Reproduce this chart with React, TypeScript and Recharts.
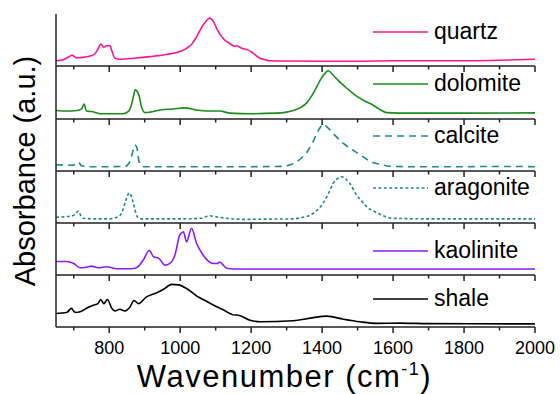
import { LineChart, Line, XAxis, YAxis, Legend } from 'recharts'

// FTIR absorbance (a.u., normalised per panel): [wavenumber, absorbance]
const quartz = [
  [650, 0.1], [670, 0.12], [690, 0.19], [696, 0.21], [706, 0.16], [730, 0.17], [746, 0.19],
  [760, 0.24], [768, 0.32], [776, 0.42], [785, 0.36], [792, 0.39], [802, 0.39], [807, 0.3],
  [816, 0.15], [830, 0.13], [870, 0.15], [915, 0.18], [960, 0.22], [990, 0.26], [1018, 0.34],
  [1035, 0.44], [1046, 0.56], [1062, 0.76], [1075, 0.88], [1083, 0.92], [1095, 0.84],
  [1103, 0.72], [1121, 0.53], [1140, 0.43], [1154, 0.38], [1160, 0.39], [1168, 0.36],
  [1178, 0.33], [1190, 0.31], [1201, 0.27], [1212, 0.21], [1225, 0.15], [1240, 0.12],
  [1253, 0.1], [1300, 0.095], [1400, 0.09], [1500, 0.09], [1600, 0.1], [1700, 0.1],
  [1800, 0.1], [1900, 0.11], [2000, 0.13],
]

const dolomite = [
  [650, 0.16], [680, 0.15], [710, 0.16], [722, 0.19], [729, 0.28], [736, 0.15], [750, 0.14],
  [774, 0.1], [800, 0.1], [839, 0.1], [855, 0.15], [862, 0.25], [868, 0.42], [873, 0.55],
  [879, 0.52], [884, 0.44], [891, 0.23], [901, 0.12], [915, 0.13], [943, 0.17], [980, 0.19],
  [1013, 0.21], [1046, 0.17], [1080, 0.15], [1112, 0.15], [1140, 0.11], [1200, 0.1],
  [1272, 0.11], [1300, 0.13], [1319, 0.16], [1340, 0.22], [1356, 0.3], [1372, 0.45],
  [1385, 0.61], [1398, 0.77], [1408, 0.86], [1417, 0.91], [1431, 0.83], [1445, 0.73],
  [1460, 0.64], [1480, 0.52], [1497, 0.43], [1520, 0.34], [1544, 0.26], [1560, 0.19],
  [1582, 0.12], [1650, 0.11], [1800, 0.11], [2000, 0.115],
]

const calcite = [
  [650, 0.12], [690, 0.11], [705, 0.13], [713, 0.17], [722, 0.1], [740, 0.083], [800, 0.083],
  [845, 0.09], [858, 0.18], [866, 0.36], [872, 0.5], [878, 0.45], [883, 0.22], [890, 0.1],
  [900, 0.083], [1000, 0.083], [1100, 0.083], [1200, 0.083], [1290, 0.09], [1310, 0.12],
  [1328, 0.18], [1345, 0.27], [1361, 0.4], [1375, 0.57], [1385, 0.72], [1395, 0.84],
  [1403, 0.9], [1412, 0.86], [1422, 0.79], [1440, 0.66], [1460, 0.53], [1485, 0.41],
  [1507, 0.31], [1525, 0.23], [1544, 0.16], [1563, 0.13], [1590, 0.09], [1650, 0.083],
  [1800, 0.083], [1900, 0.088], [2000, 0.083],
]

const aragonite = [
  [650, 0.11], [690, 0.13], [705, 0.17], [713, 0.23], [720, 0.14], [727, 0.09], [760, 0.08],
  [800, 0.08], [825, 0.12], [835, 0.19], [847, 0.44], [857, 0.58], [868, 0.38], [879, 0.12],
  [890, 0.08], [1000, 0.08], [1060, 0.09], [1082, 0.14], [1100, 0.12], [1178, 0.07],
  [1250, 0.075], [1319, 0.08], [1345, 0.11], [1366, 0.15], [1385, 0.24], [1403, 0.38],
  [1418, 0.57], [1431, 0.76], [1445, 0.86], [1455, 0.89], [1466, 0.85], [1478, 0.76],
  [1497, 0.54], [1512, 0.42], [1526, 0.31], [1545, 0.23], [1563, 0.17], [1580, 0.12],
  [1600, 0.09], [1700, 0.08], [2000, 0.08],
]

const kaolinite = [
  [650, 0.26], [680, 0.26], [700, 0.22], [718, 0.14], [735, 0.15], [750, 0.17], [769, 0.14],
  [793, 0.16], [821, 0.12], [860, 0.12], [877, 0.14], [896, 0.29], [913, 0.47], [925, 0.35],
  [940, 0.32], [957, 0.19], [970, 0.22], [985, 0.38], [999, 0.77], [1009, 0.83], [1018, 0.64],
  [1032, 0.9], [1046, 0.61], [1065, 0.38], [1080, 0.26], [1093, 0.22], [1104, 0.22],
  [1112, 0.25], [1120, 0.2], [1131, 0.13], [1150, 0.115], [1300, 0.115], [1500, 0.115],
  [2000, 0.115],
]

const shale = [
  [650, 0.26], [680, 0.28], [694, 0.36], [700, 0.3], [706, 0.28], [720, 0.3], [736, 0.36],
  [755, 0.42], [768, 0.45], [776, 0.53], [785, 0.45], [795, 0.53], [807, 0.36], [816, 0.31],
  [830, 0.34], [844, 0.31], [858, 0.38], [870, 0.51], [882, 0.45], [905, 0.58], [934, 0.66],
  [952, 0.72], [976, 0.82], [995, 0.81], [1018, 0.74], [1046, 0.6], [1075, 0.49], [1100, 0.4],
  [1121, 0.33], [1154, 0.23], [1160, 0.23], [1197, 0.13], [1225, 0.1], [1319, 0.12],
  [1366, 0.17], [1413, 0.21], [1460, 0.15], [1507, 0.1], [1554, 0.07], [1620, 0.075],
  [1700, 0.065], [2000, 0.06],
]

const xTicks = [700, 800, 900, 1000, 1100, 1200, 1300, 1400, 1500, 1600, 1700, 1800, 1900, 2000]

const FONT = '"Liberation Sans", Arial, Helvetica, sans-serif'
const AXIS = '#222'

// panel layout (pixels) and line styles
const panels = [
  { name: 'quartz', points: quartz, color: '#ff1493', dash: undefined, top: 14, h: 52, legendY: 32 },
  { name: 'dolomite', points: dolomite, color: '#1a8c1a', dash: undefined, top: 66, h: 53, legendY: 84 },
  { name: 'calcite', points: calcite, color: '#1f8a8a', dash: '7 5', top: 119, h: 52, legendY: 136 },
  { name: 'aragonite', points: aragonite, color: '#1f8a8a', dash: '3 2.4', top: 171, h: 52, legendY: 188 },
  { name: 'kaolinite', points: kaolinite, color: '#8c1aff', dash: undefined, top: 223, h: 52, legendY: 251 },
  { name: 'shale', points: shale, color: '#000000', dash: undefined, top: 275, h: 52, legendY: 299 },
]

function Tick({ x, y, payload, showLabel }: any) {
  const major = payload.value % 200 === 0
  return (
    <g>
      <line x1={x} x2={x} y1={y} y2={y + (major ? 6 : 3.5)} stroke={AXIS} strokeWidth={1.5} />
      {showLabel && major && (
        <text x={x} y={y + 27} textAnchor="middle" fontSize={18} fontFamily={FONT} fill="#000">
          {payload.value}
        </text>
      )}
    </g>
  )
}

const renderXTitle = (props: any) => {
  const vb = props.viewBox || { x: 56, y: 327, width: 479, height: 67 }
  return (
    <text
      x={vb.x + vb.width / 2 - 11}
      y={vb.y + 60}
      textAnchor="middle"
      fontSize={31}
      letterSpacing={1.5}
      fontFamily={FONT}
      fill="#000"
    >
      Wavenumber (cm
      <tspan dy={-12} fontSize={18}>-1</tspan>
      <tspan dy={12}>)</tspan>
    </text>
  )
}

function LegendItem({ p }: any) {
  return (
    <svg width={180} height={30} style={{ display: 'block' }}>
      <line x1={3} x2={58} y1={15} y2={15} stroke={p.color} strokeWidth={1.6} strokeDasharray={p.dash} />
      <text x={64} y={21.5} fontSize={23} fontFamily={FONT} fill="#000">
        {p.name}
      </text>
    </svg>
  )
}

export default function App() {
  return (
    <div style={{ position: 'absolute', left: 0, top: 0, width: 560, height: 394, background: '#fff' }}>
      {panels.map((p, i) => {
        const last = i === panels.length - 1
        const axisH = last ? 67 : 8
        const data = p.points.map(([wn, a]) => ({ wn, a }))
        return (
          <div key={p.name} style={{ position: 'absolute', left: 0, top: p.top }}>
            <LineChart
              width={560}
              height={p.h + axisH}
              data={data}
              margin={{ top: 0, right: 25, left: 55, bottom: 0 }}
            >
              <XAxis
                dataKey="wn"
                type="number"
                domain={[650, 2000]}
                allowDataOverflow
                ticks={xTicks}
                interval={0}
                height={axisH}
                tickLine={false}
                tickSize={0}
                tickMargin={0}
                axisLine={{ stroke: AXIS, strokeWidth: 1.5 }}
                tick={<Tick showLabel={last} />}
                label={last ? renderXTitle : undefined}
              />
              <YAxis
                domain={[0, 1]}
                allowDataOverflow
                width={1}
                tick={false}
                tickLine={false}
                axisLine={{ stroke: AXIS, strokeWidth: 1.5 }}
              />
              <Legend
                verticalAlign="middle"
                align="center"
                layout="horizontal"
                wrapperStyle={{ left: 370, top: p.legendY - p.top - 15, width: 180, height: 30 }}
                content={() => <LegendItem p={p} />}
              />
              <Line
                type="monotone"
                dataKey="a"
                name={p.name}
                stroke={p.color}
                strokeWidth={1.6}
                strokeDasharray={p.dash}
                dot={false}
                isAnimationActive={false}
              />
            </LineChart>
          </div>
        )
      })}
      <svg
        width={50}
        height={394}
        style={{ position: 'absolute', left: 0, top: 0, pointerEvents: 'none' }}
      >
        <text
          transform="translate(35,171) rotate(-90)"
          textAnchor="middle"
          fontSize={29}
          fontFamily={FONT}
          fill="#000"
        >
          Absorbance (a.u.)
        </text>
      </svg>
    </div>
  )
}
